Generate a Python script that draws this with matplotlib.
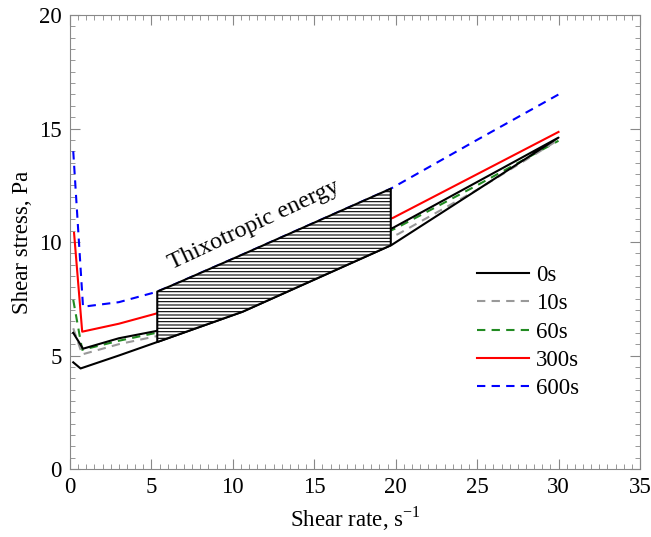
import numpy as np
import matplotlib
matplotlib.use('Agg')
import matplotlib.pyplot as plt

plt.rcParams['font.family'] = ['Liberation Serif', 'DejaVu Serif']
plt.rcParams['hatch.linewidth'] = 0.8

# ---- данные ----
# 0s: петля (подъём, затем спуск)
x_0s = [0.2, 0.65, 3.0, 5.3, 10.6, 19.75, 30.0, 19.85, 10.6, 5.3, 3.0, 0.8, 0.2]
y_0s = [4.7, 4.43, 5.0, 5.58, 6.93, 9.87, 14.6, 10.63, 8.1, 6.08, 5.76, 5.3, 6.0]

x_10s = [0.2, 0.75, 3.0, 5.3, 10.6, 20.15, 25.0, 30.0]
y_10s = [6.2, 5.05, 5.5, 5.85, 7.5, 10.35, 12.3, 14.5]

x_60s = [0.2, 0.75, 3.0, 5.3, 10.6, 20.0, 25.0, 30.0]
y_60s = [7.45, 5.25, 5.65, 6.0, 7.7, 10.6, 12.5, 14.46]

x_300s = [0.25, 0.75, 3.0, 5.3, 10.6, 19.85, 30.0]
y_300s = [10.4, 6.05, 6.4, 6.85, 8.5, 11.07, 14.85]

x_600s = [0.2, 0.8, 3.0, 5.3, 6.3, 10.6, 19.7, 25.0, 30.0]
y_600s = [14.0, 7.15, 7.35, 7.8, 8.1, 9.45, 12.35, 14.5, 16.5]

# границы заштрихованной области (тиксотропная энергия)
hatch_x = [5.36, 6.3, 10.6, 19.7]
hatch_top = np.interp(hatch_x, x_600s, y_600s)
hatch_bot = np.interp(hatch_x, x_0s[:7], y_0s[:7])

fs = 16.5

fig = plt.figure(figsize=(6.51, 5.37), dpi=100)
ax = fig.add_axes([0.1075, 0.1266, 0.8755, 0.8454])

ax.plot(x_600s, y_600s, color='blue', lw=1.5, ls=(0, (4, 3)), label='600s', zorder=2)
ax.plot(x_300s, y_300s, color='red', lw=1.5, label='300s', zorder=2)
ax.plot(x_60s, y_60s, color='#228b22', lw=1.5, ls=(0, (4, 3)), label='60s', zorder=2)
ax.plot(x_10s, y_10s, color='#999999', lw=1.5, ls=(0, (4, 3)), label='10s', zorder=2)
ax.plot(x_0s, y_0s, color='black', lw=1.5, label='0s', zorder=2.5)

ax.fill_between(hatch_x, hatch_bot, hatch_top, facecolor='white', edgecolor='black',
                hatch='-----', linewidth=1.5, zorder=3)

ax.text(11.3, 10.75, 'Thixotropic energy', rotation=25, fontsize=17.5,
        ha='center', va='center', zorder=4)

ax.set_xlim(0, 35)
ax.set_ylim(0, 20)
ax.set_xticks(np.arange(0, 36, 5))
ax.set_yticks(np.arange(0, 21, 5))
ax.set_xticks(np.arange(0, 35.01, 0.5), minor=True)
ax.set_yticks(np.arange(0, 20.01, 0.5), minor=True)
ax.tick_params(which='both', direction='in', top=True, right=True, color='#888888',
               labelsize=fs, pad=6)
ax.tick_params(which='major', length=7)
ax.tick_params(which='minor', length=3.5)
for s in ax.spines.values():
    s.set_color('#888888')

ax.set_xlabel('Shear rate, s$^{\\mathregular{-1}}$', fontsize=fs, labelpad=4)
ax.set_ylabel('Shear stress, Pa', fontsize=fs, labelpad=4)

h, l = ax.get_legend_handles_labels()
order = [4, 3, 2, 1, 0]
ax.legend([h[i] for i in order], [l[i] for i in order], loc='upper left',
          bbox_to_anchor=(0.678, 0.495), frameon=False, fontsize=fs,
          handlelength=2.27, labelspacing=0.32, handletextpad=0.3)

fig.savefig('out.png', dpi=100)
